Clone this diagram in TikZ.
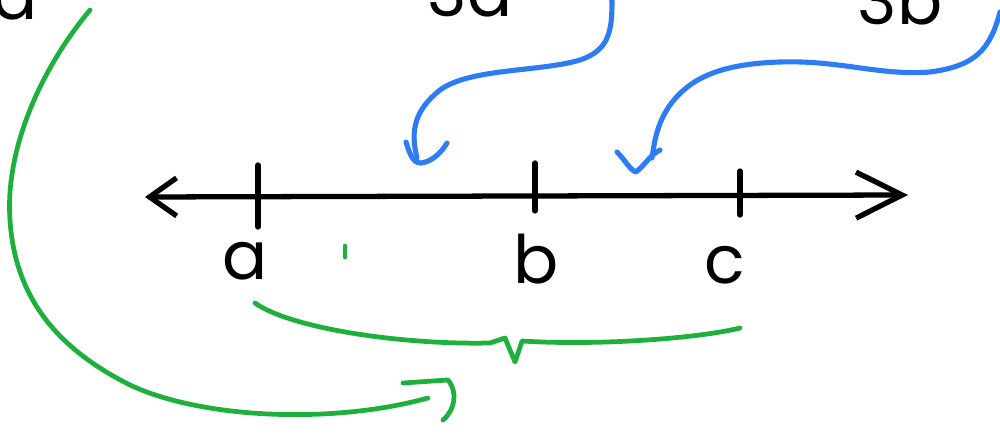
\documentclass[tikz,border=0pt]{standalone}
\usepackage{xcolor}
\usepackage{fontspec}
\setmainfont{Poppins}
\usepackage{tikz}
\usetikzlibrary{arrows.meta}
\definecolor{penblue}{HTML}{2E7BF6}
\definecolor{pengreen}{HTML}{1DB03C}

\begin{document}
\begin{tikzpicture}[x=0.01cm, y=-0.01cm,
          line cap=round, line join=round,
          ink/.style={draw=black, line width=1.5pt},
          gpen/.style={draw=pengreen, line width=1.35pt},
          bpen/.style={draw=penblue, line width=1.45pt},
          lbl/.style={anchor=base, inner sep=0pt, font=\fontsize{19}{22}\selectfont}
      ]
        \useasboundingbox (0,0) rectangle (1000,437);

        \node[lbl] (atop)  at (15,20)  {a};
        \node[lbl] (threea) at (470,17) {3a};
        \node[lbl] (threeb) at (900,25) {3b};

        \coordinate (left)  at (145,197);
        \coordinate (right) at (908,195);
        \draw[ink, {Straight Barb[length=2.7mm,width=3.8mm]}-{Straight Barb[length=4.6mm,width=4.6mm]}]
              (left) -- (right);

        \coordinate (ta) at (258,197);
        \coordinate (tb) at (535,196);
        \coordinate (tc) at (740,195);
        \draw[ink] (ta) ++(0,-32) -- ++(0,62);
        \draw[ink] (tb) ++(0,-33) -- ++(0,48);
        \draw[ink] (tc) ++(0,-24) -- ++(0,44);

        \node[lbl] (la) at (245,280) {a};
        \node[lbl] (lb) at (536,284) {b};
        \node[lbl] (lc) at (725,284) {c};

        \draw[gpen] (345,246) -- (345,257);

        \coordinate (bl) at (255,303);
        \coordinate (br) at (740,328);
        \coordinate (bm) at (515,362);
        \draw[gpen] (bl) .. controls (290,328) and (400,345) .. (490,343)
              -- (505,338) -- (bm) -- (522,341)
              .. controls (600,346) and (700,338) .. (br);

        \coordinate (gs) at (90,10);
        \coordinate (ge) at (428,398);
        \draw[gpen] (gs) .. controls (40,70) and (5,150) .. (10,220)
              .. controls (15,300) and (60,350) .. (130,385)
              .. controls (200,418) and (330,425) .. (ge);
        \draw[gpen] (403,383) -- (448,380) .. controls (458,392) and (455,410) .. (443,420);

        \coordinate (b1s) at (612,0);
        \coordinate (b1e) at (417,158);
        \draw[bpen] (b1s) .. controls (612,30) and (610,50) .. (580,60)
              .. controls (540,72) and (470,68) .. (440,90)
              .. controls (415,110) and (410,130) .. (b1e);
        \draw[bpen] (406,142) .. controls (410,155) and (413,163) .. (421,163)
              .. controls (430,162) and (440,155) .. (447,143);

        \coordinate (b2s) at (1000,12);
        \coordinate (b2e) at (652,158);
        \draw[bpen] (b2s) .. controls (990,50) and (975,66) .. (930,72)
              .. controls (880,76) and (840,60) .. (780,62)
              .. controls (720,64) and (690,78) .. (670,105)
              .. controls (656,125) and (654,145) .. (b2e);
        \draw[bpen] (617,152) .. controls (625,160) and (630,170) .. (636,172)
              .. controls (645,165) and (650,155) .. (660,150);
      \end{tikzpicture}
\end{document}
